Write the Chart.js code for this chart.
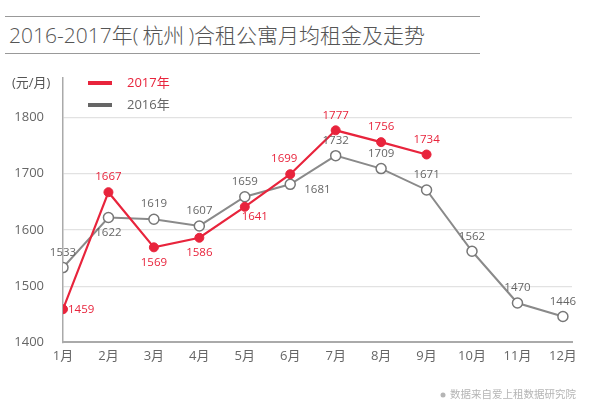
<!DOCTYPE html>
<html><head><meta charset="utf-8">
<script src="https://cdn.jsdelivr.net/npm/chart.js@4/dist/chart.umd.min.js"></script>
<style>
html,body{margin:0;padding:0;background:#fff;}
#wrap{position:relative;width:600px;height:408px;}
#title{position:absolute;left:9px;top:19px;font-family:"Open Sans","Noto Sans CJK SC",sans-serif;font-weight:300;font-size:21px;color:#555;white-space:nowrap;letter-spacing:0px;}
#title span{margin:0 4px;}
.rule{position:absolute;left:5px;width:475px;height:1px;background:#999;}
canvas{position:absolute;left:0;top:0;}
</style></head>
<body><div id="wrap">
<div class="rule" style="top:16px"></div>
<div id="title">2016-2017年(<span>杭州</span>)合租公寓月均租金及走势</div>
<div class="rule" style="top:53px"></div>
<canvas id="c" width="600" height="408"></canvas>
</div>
<script>
const months = ['1月','2月','3月','4月','5月','6月','7月','8月','9月','10月','11月','12月'];
const rent2017 = [1459,1667,1569,1586,1641,1699,1777,1756,1734];
const rent2016 = [1533,1622,1619,1607,1659,1681,1732,1709,1671,1562,1470,1446];
const yTicks = [1400,1500,1600,1700,1800];
const labelPos2017 = ['r','t','b','b','br','tl','t','t','t'];
const labelPos2016 = ['t','b','t','t','t','r','t','t','t','t','t','t'];

const RED = '#e8243c', GRAY = '#8a8a8a';
const FONT = '"Open Sans","Noto Sans CJK SC",sans-serif';

const extras = {
  id:'extras',
  afterDatasetsDraw(chart){
    const ctx = chart.ctx;
    ctx.save();
    const specs = [[0,labelPos2017,RED],[1,labelPos2016,'#666']];
    ctx.font = '11.5px ' + FONT;
    specs.forEach(([di,pos,col])=>{
      const meta = chart.getDatasetMeta(di);
      const ds = chart.data.datasets[di];
      meta.data.forEach((pt,i)=>{
        const txt = String(ds.data[i].y);
        let x = pt.x, y = pt.y, p = pos[i];
        ctx.fillStyle = col;
        ctx.textBaseline = 'middle';
        ctx.textAlign = 'center';
        if(p==='t'){ y -= 15; }
        else if(p==='b'){ y += 15; }
        else if(p==='r'){ x += 5; ctx.textAlign='left'; y += 1; }
        else if(p==='br'){ x += 10; y += 10; }
        else if(p==='tl'){ x -= 6; y -= 15; }
        if(p==='r' && di===1){ x += 9; y += 4; }
        ctx.fillText(txt,x,y);
      });
    });
    ctx.font = '13px ' + FONT;
    ctx.fillStyle = '#555';
    ctx.textAlign = 'left';
    ctx.textBaseline = 'middle';
    ctx.fillText('(元/月)', 12, 83);
    ctx.fillStyle = RED; ctx.fillRect(88, 81, 24, 4);
    ctx.fillStyle = '#666'; ctx.fillRect(88, 103, 24, 4);
    ctx.font = '13px ' + FONT;
    ctx.fillStyle = RED; ctx.fillText('2017年', 127, 83);
    ctx.fillStyle = '#666'; ctx.fillText('2016年', 127, 105);
    ctx.fillStyle = '#b5b5b5';
    ctx.beginPath(); ctx.arc(443, 395, 2.5, 0, Math.PI*2); ctx.fill();
    ctx.font = '10.5px ' + FONT;
    ctx.fillText('数据来自爱上租数据研究院', 450, 395);
    ctx.restore();
  }
};

new Chart(document.getElementById('c'), {
  type:'line',
  data:{
    datasets:[
      {label:'2017年', data: rent2017.map((v,i)=>({x:i,y:v})), borderColor:RED, backgroundColor:RED,
       borderWidth:2.2, pointRadius:4.5, pointBackgroundColor:RED, pointBorderColor:RED, pointBorderWidth:1, tension:0},
      {label:'2016年', data: rent2016.map((v,i)=>({x:i,y:v})), borderColor:GRAY, backgroundColor:'#fff',
       borderWidth:2, pointRadius:5, pointBackgroundColor:'#fff', pointBorderColor:'#777', pointBorderWidth:1.5, tension:0}
    ]
  },
  options:{
    responsive:false, animation:false,
    layout:{padding:{left:12,right:28,top:78,bottom:38}},
    plugins:{legend:{display:false}, tooltip:{enabled:false}},
    scales:{
      x:{type:'linear', min:0, max:11.2,
        afterBuildTicks(axis){ axis.ticks = months.map((m,i)=>({value:i})); },
        ticks:{callback:(v)=>months[v], color:'#666', font:{family:FONT,size:13}, padding:6, maxRotation:0, autoSkip:false},
        grid:{display:false, drawTicks:false},
        border:{color:'#aaa', width:2}
      },
      y:{min:1400, max:1870,
        afterBuildTicks(axis){ axis.ticks = yTicks.map(v=>({value:v})); },
        afterFit(scale){ scale.width = 51; },
        ticks:{callback:(v)=>String(v), color:'#666', font:{family:FONT,size:13}, padding:19},
        grid:{color:(c)=> c.tick && c.tick.value===1400 ? 'rgba(0,0,0,0)' : '#e2e2e2', drawTicks:false, lineWidth:1.2},
        border:{color:'#aaa', width:1.5}
      }
    }
  },
  plugins:[extras]
});
</script>
</body></html>
